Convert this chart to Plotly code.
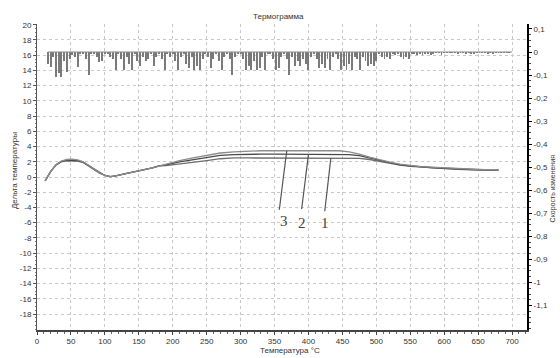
import plotly.graph_objects as go

# ---------------- data ----------------
temps = [12, 20, 28, 36, 44, 52, 60, 68, 76, 84, 92, 100, 108, 116, 130, 150, 170, 180,
         190, 210, 230, 250, 270, 290, 310, 330, 350, 375, 400, 425, 445,
         460, 475, 490, 505, 520, 535, 550, 565, 580, 600, 620, 640, 660, 680]

curve3 = [-0.5, 0.7, 1.6, 2.1, 2.3, 2.35, 2.25, 2.0, 1.55, 1.0, 0.55, 0.2, 0.05, 0.15, 0.45, 0.8, 1.2, 1.45,
          1.75, 2.15, 2.5, 2.8, 3.15, 3.3, 3.4, 3.45, 3.45, 3.45, 3.45, 3.45, 3.45,
          3.3, 3.0, 2.6, 2.25, 1.95, 1.7, 1.5, 1.35, 1.3, 1.2, 1.1, 1.0, 0.95, 0.95]
curve2 = [-0.5, 0.7, 1.6, 2.05, 2.2, 2.2, 2.15, 1.95, 1.5, 1.0, 0.55, 0.2, 0.05, 0.15, 0.45, 0.8, 1.2, 1.45,
          1.6, 2.0, 2.3, 2.6, 2.85, 2.95, 3.0, 3.0, 3.0, 3.0, 3.0, 3.0, 3.0,
          2.95, 2.8, 2.5, 2.15, 1.85, 1.6, 1.45, 1.3, 1.25, 1.15, 1.05, 1.0, 0.92, 0.9]
curve1 = [-0.5, 0.7, 1.55, 2.0, 2.15, 2.15, 2.1, 1.9, 1.45, 0.95, 0.5, 0.2, 0.05, 0.15, 0.45, 0.8, 1.2, 1.45,
          1.5, 1.7, 1.95, 2.15, 2.4, 2.5, 2.5, 2.5, 2.5, 2.5, 2.5, 2.5, 2.5,
          2.5, 2.45, 2.3, 2.05, 1.8, 1.55, 1.4, 1.3, 1.2, 1.1, 1.0, 0.95, 0.9, 0.92]

spike_t = [16, 20, 24, 28, 32, 36, 40, 44, 48, 52, 56, 60, 64, 68, 72, 76, 80, 84, 88, 92,
           96, 100, 104, 108, 112, 116, 120, 124, 128, 132, 136, 140, 144, 148, 152, 156, 160, 164, 168, 172,
           176, 180, 184, 188, 192, 196, 200, 204, 208, 212, 216, 220, 224, 228, 232, 236, 240, 244, 248, 252,
           256, 260, 264, 268, 272, 276, 280, 284, 288, 292, 296, 300, 304, 308, 312, 316, 320, 324, 328, 332,
           336, 340, 344, 348, 352, 356, 360, 364, 368, 372, 376, 380, 384, 388, 392, 396, 400, 404, 408, 412,
           416, 420, 424, 428, 432, 436, 440, 444, 448, 452, 456, 460, 464, 468, 472, 476, 480, 484, 488, 492,
           496, 500, 504, 508, 512, 516, 520, 524, 528, 532, 536, 540, 544, 548, 552, 556, 560, 564, 568, 572,
           576, 580, 584, 588, 592, 596, 600, 604, 608, 612, 616, 620, 624, 628, 632, 636, 640, 644, 648, 652,
           656, 660, 664, 668, 672, 676, 680, 684, 688, 692, 696, 700]
spike_v = [-0.05, -0.065, -0.02, -0.11, -0.09, -0.11, -0.04, -0.085, -0.03, -0.015, -0.02, -0.065, -0.01, -0.005, -0.03, -0.1, -0.01, -0.005, -0.02, -0.045,
           -0.04, -0.01, -0.005, -0.02, -0.03, -0.08, -0.01, -0.03, -0.08, -0.02, -0.05, -0.08, -0.01, -0.04, -0.06, -0.02, -0.04, -0.03, -0.01, -0.06,
           -0.02, -0.01, -0.03, -0.08, -0.01, -0.02, -0.005, -0.04, -0.08, -0.02, -0.01, -0.05, -0.07, -0.02, -0.08, -0.06, -0.08, -0.03, -0.01, -0.02,
           -0.07, -0.03, -0.01, -0.04, -0.08, -0.02, -0.005, -0.03, -0.1, -0.02, -0.01, -0.005, -0.03, -0.08, -0.06, -0.08, -0.04, -0.08, -0.07, -0.02,
           -0.08, -0.01, -0.005, -0.03, -0.08, -0.07, -0.02, -0.01, -0.03, -0.1, -0.02, -0.06, -0.04, -0.06, -0.03, -0.05, -0.08, -0.02, -0.01, -0.03,
           -0.07, -0.05, -0.07, -0.03, -0.08, -0.02, -0.01, -0.03, -0.08, -0.06, -0.08, -0.05, -0.08, -0.02, -0.03, -0.08, -0.02, -0.04, -0.06, -0.05,
           -0.06, -0.04, -0.01, -0.02, -0.03, -0.02, -0.03, -0.01, -0.015, -0.01, -0.02, -0.03, -0.02, -0.03, -0.01, -0.005, -0.015, -0.01, -0.015, -0.005,
           -0.01, -0.015, -0.005, -0.003, -0.004, -0.012, -0.004, -0.003, -0.002, -0.004, -0.003, -0.006, -0.004, -0.003, -0.005, -0.002, -0.006, -0.01, -0.003, -0.002,
           -0.003, -0.002, -0.005, -0.004, -0.006, -0.003, -0.002, -0.001, -0.001, -0.001, -0.001, 0.0]

x_ticks = [0, 50, 100, 150, 200, 250, 300, 350, 400, 450, 500, 550, 600, 650, 700]
y_ticks = [20, 18, 16, 14, 12, 10, 8, 6, 4, 2, 0, -2, -4, -6, -8, -10, -12, -14, -16, -18]
y2_ticks = [0.1, 0.0, -0.1, -0.2, -0.3, -0.4, -0.5, -0.6, -0.7, -0.8, -0.9, -1.0, -1.1]
y2_text = ["0,1", "0", "-0,1", "-0,2", "-0,3", "-0,4", "-0,5", "-0,6", "-0,7", "-0,8", "-0,9", "-1", "-1,1"]

# curve labels: text, label position (T, v), leader start (T, v), leader end (T, v)
label_text = ["3", "2", "1"]
label_pos = [(364, -5.8), (391, -6.0), (424, -6.1)]
leader_from = [(357, -4.3), (390, -4.2), (424, -4.5)]
leader_to = [(368, 3.45), (400, 3.0), (433, 2.5)]

# ---------------- figure ----------------
fig = go.Figure()

fig.add_trace(go.Bar(x=spike_t, y=spike_v, yaxis="y2", width=1.4,
                     marker=dict(color="#7a7a7a", line=dict(width=0)), showlegend=False))
fig.add_trace(go.Scatter(x=[spike_t[0], spike_t[-1]], y=[0, 0], yaxis="y2", mode="lines",
                         line=dict(color="#8a8a8a", width=1), showlegend=False))

for ys, col in [(curve1, "#6e6e6e"), (curve2, "#4a4a4a"), (curve3, "#8c8c8c")]:
    fig.add_trace(go.Scatter(x=temps, y=ys, mode="lines", line=dict(color=col, width=1.3),
                             showlegend=False))

for txt, lp, lf, lt in zip(label_text, label_pos, leader_from, leader_to):
    fig.add_shape(type="line", x0=lf[0], y0=lf[1], x1=lt[0], y1=lt[1], xref="x", yref="y",
                  line=dict(color="#555555", width=1.2))
    fig.add_annotation(x=lp[0], y=lp[1], text=txt, showarrow=False, xref="x", yref="y",
                       font=dict(family="Liberation Serif", size=15, color="#444444"))

font_ax = dict(family="Liberation Sans, Arial", size=8, color="#333333")

fig.update_layout(
    width=560, height=358,
    margin=dict(l=37, r=25, t=24, b=25),
    paper_bgcolor="white", plot_bgcolor="white",
    bargap=0,
    xaxis=dict(range=[0, 722], tickvals=x_ticks, ticktext=[str(v) for v in x_ticks],
               tickfont=font_ax, showgrid=True, gridcolor="#c8c8c8", griddash="dot", gridwidth=1,
               zeroline=False, showline=True, linecolor="#444444", linewidth=1.5,
               ticks="outside", ticklen=3, tickcolor="#444444",
               minor=dict(ticks="outside", dtick=10, ticklen=2, tickcolor="#666666", showgrid=False)),
    yaxis=dict(range=[-20.1, 20.1], tickvals=y_ticks, ticktext=[str(v) for v in y_ticks],
               tickfont=font_ax, showgrid=True, gridcolor="#c8c8c8", griddash="dot", gridwidth=1,
               zeroline=False, showline=True, linecolor="#555555", linewidth=1,
               ticks="outside", ticklen=3, tickcolor="#555555",
               minor=dict(ticks="outside", dtick=0.5, ticklen=1.5, tickcolor="#777777", showgrid=False)),
    yaxis2=dict(range=[-1.206, 0.1215], overlaying="y", side="right",
                tickvals=y2_ticks, ticktext=y2_text, tickfont=font_ax,
                showgrid=False, zeroline=False, showline=True, linecolor="#000000", linewidth=2,
                ticks="outside", ticklen=3, tickcolor="#000000",
                minor=dict(ticks="outside", dtick=0.025, ticklen=2, tickcolor="#444444")),
)

fig.add_annotation(xref="paper", yref="paper", x=(282 - 37) / 498, y=1.0, yshift=8, yanchor="middle",
                   text="Термограмма", showarrow=False, font=dict(family="Liberation Sans, Arial", size=8, color="#333333"))
fig.add_annotation(xref="paper", yref="paper", x=(294 - 37) / 498, y=0, yshift=-20, yanchor="middle",
                   text="Температура °C", showarrow=False, font=dict(family="Liberation Sans, Arial", size=8, color="#333333"))
fig.add_annotation(xref="paper", yref="paper", x=0, xshift=-29, y=(333 - 172) / 309,
                   text="Дельта температуры", textangle=-90, showarrow=False,
                   font=dict(family="Liberation Sans, Arial", size=8, color="#333333"))
fig.add_annotation(xref="paper", yref="paper", x=1, xshift=26, xanchor="center", y=(333 - 190) / 309,
                   text="Скорость изменения", textangle=-90, showarrow=False, borderpad=0,
                   font=dict(family="Liberation Sans, Arial", size=7, color="#333333"))

fig.write_html("out.html")
